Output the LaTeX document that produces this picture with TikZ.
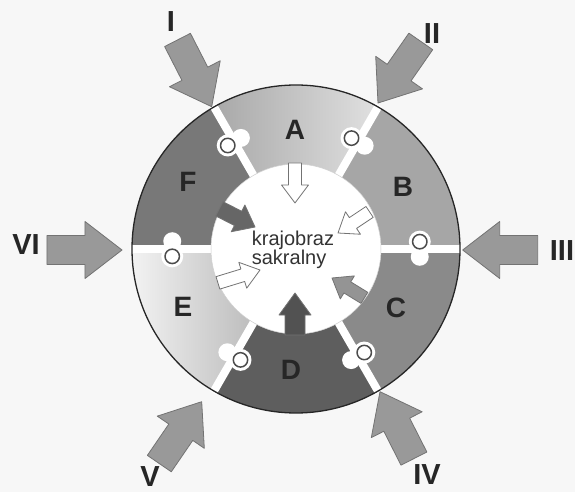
\documentclass[tikz,border=0pt]{standalone}
\usepackage{fontspec}
\setmainfont{Liberation Sans}
\usepackage{tikz}
\usetikzlibrary{calc}

\begin{document}
\begin{tikzpicture}[x=1pt,y=1pt,
    outarrow/.style = {
        fill=black!40,
        draw=black!55,
        line width=0.8pt,
        line join=round
    },
    inarrow/.style = {
        draw=black!55,
        line width=0.8pt,
        line join=round
    },
    gap/.style = {
        white,
        line width=8pt
    },
    knob/.style = {
        fill=white,
        draw=black!70,
        line width=1.5pt
    },
    part/.style = {
        font=\bfseries\fontsize{28}{28}\selectfont,
        text=black!85
    },
    roman/.style = {
        font=\bfseries\fontsize{29}{29}\selectfont,
        text=black!85
    }
]
    \useasboundingbox (-296,-243) rectangle (279,249);
    \fill[black!3] (-296,-243) rectangle (279,249);

    % ring parts A..F
    \shade[left color=black!34, right color=black!12] (60:164) arc[start angle=60,end angle=120,radius=164] -- (120:85) arc[start angle=120,end angle=60,radius=85] -- cycle;
    \fill[black!35] (0:164) arc[start angle=0,end angle=60,radius=164] -- (60:85) arc[start angle=60,end angle=0,radius=85] -- cycle;
    \fill[black!46] (-60:164) arc[start angle=-60,end angle=0,radius=164] -- (0:85) arc[start angle=0,end angle=-60,radius=85] -- cycle;
    \fill[black!63] (-120:164) arc[start angle=-120,end angle=-60,radius=164] -- (-60:85) arc[start angle=-60,end angle=-120,radius=85] -- cycle;
    \shade[left color=black!5, right color=black!26] (180:164) arc[start angle=180,end angle=240,radius=164] -- (240:85) arc[start angle=240,end angle=180,radius=85] -- cycle;
    \fill[black!53] (120:164) arc[start angle=120,end angle=180,radius=164] -- (180:85) arc[start angle=180,end angle=120,radius=85] -- cycle;

    % white joints with knobs
    \foreach \b in {0,60,...,300} {
        \draw[gap] (\b:80) -- (\b:166);
        \fill[white] ({\b+3.4}:124) circle (11);
        \fill[white] ({\b-3.6}:124) circle (9);
        \draw[knob] ({\b+3.4}:124) circle (7.2);
    }

    \draw[black!85, line width=1.3pt] (0,0) circle (164);
    \fill[white] (0,0) circle (85);
    \draw[black!20, line width=0.5pt] (0,0) circle (85);

    % arrows into the centre
    \draw[inarrow, fill=white, shift={(-1,46)}, rotate=-90] (0,0) -- (-18,13.5) -- (-18,6.5) -- (-40,6.5) -- (-40,-6.5) -- (-18,-6.5) -- (-18,-13.5) -- cycle;
    \draw[inarrow, fill=white, shift={(42,16)}, rotate=213.7] (0,0) -- (-18,13.5) -- (-18,6.5) -- (-38,6.5) -- (-38,-6.5) -- (-18,-6.5) -- (-18,-13.5) -- cycle;
    \draw[inarrow, fill=black!42, shift={(36,-29)}, rotate=148.5] (0,0) -- (-18,13.5) -- (-18,6.5) -- (-38,6.5) -- (-38,-6.5) -- (-18,-6.5) -- (-18,-13.5) -- cycle;
    \draw[inarrow, fill=black!68, shift={(-1,-44)}, rotate=90] (0,0) -- (-22,16) -- (-22,10) -- (-42,10) -- (-42,-10) -- (-22,-10) -- (-22,-16) -- cycle;
    \draw[inarrow, fill=white, shift={(-36,-21)}, rotate=17] (0,0) -- (-18,13.5) -- (-18,6.5) -- (-44,6.5) -- (-44,-6.5) -- (-18,-6.5) -- (-18,-13.5) -- cycle;
    \draw[inarrow, fill=black!60, shift={(-41,22)}, rotate=-27] (0,0) -- (-19,15) -- (-19,8) -- (-40,8) -- (-40,-8) -- (-19,-8) -- (-19,-15) -- cycle;

    \node[align=left, font=\fontsize{20}{15}\selectfont, text=black!80] (sacral) at (-3,-1) {krajobraz\\sakralny};

    \node[part] (A) at (-1,119) {A};
    \node[part] (B) at (107,62) {B};
    \node[part] (C) at (100,-59) {C};
    \node[part] (D) at (-5,-121) {D};
    \node[part] (E) at (-113,-58) {E};
    \node[part] (F) at (-108,67) {F};

    % outer arrows
    \foreach \tx/\ty/\dir in {-84.3/142.3/-62.9, 82/146/-124.8, 166.7/-1/180, 84/-142.7/116.9, -94.3/-152.7/55.6, -174/-1/0}
        \draw[outarrow, shift={(\tx,\ty)}, rotate=\dir] (0,0) -- (-37,28.5) -- (-37,14.5) -- (-75,14.5) -- (-75,-14.5) -- (-37,-14.5) -- (-37,-28.5) -- cycle;

    \node[roman] (I) at (-125,227) {I};
    \node[roman] (II) at (136,215) {II};
    \node[roman] (III) at (266,-2) {III};
    \node[roman] (IV) at (131,-226) {IV};
    \node[roman] (V) at (-146,-228) {V};
    \node[roman] (VI) at (-270,4) {VI};
\end{tikzpicture}
\end{document}
